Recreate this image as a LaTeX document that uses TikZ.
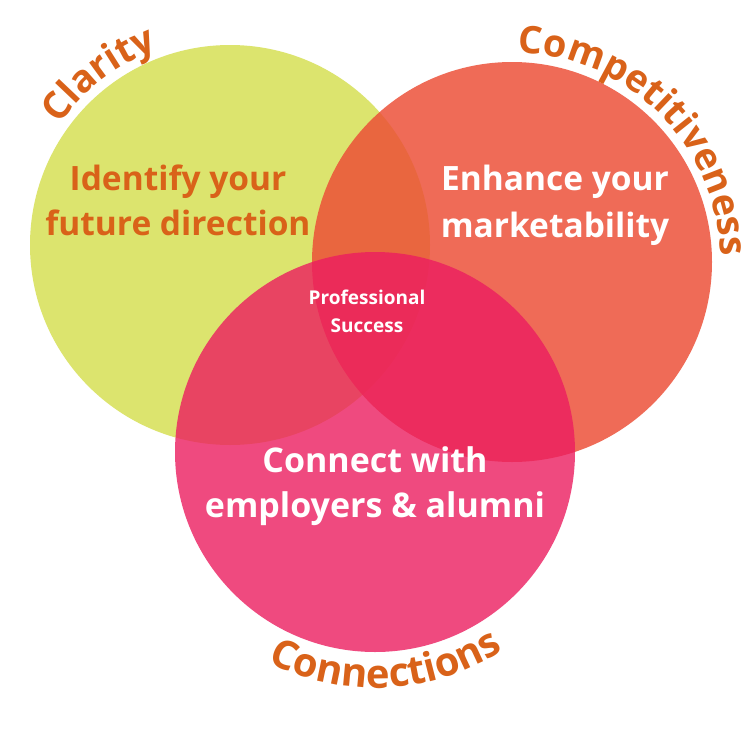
\documentclass[tikz,border=0pt]{standalone}
\usepackage{fontspec}
\setmainfont{Open Sans}
\usetikzlibrary{decorations.text}
\definecolor{cyel}{RGB}{220,228,110}
\definecolor{corg}{RGB}{236,79,55}
\definecolor{cpnk}{RGB}{236,29,96}
\definecolor{ctxt}{RGB}{217,98,25}
\newcommand{\arcfont}[1]{\fontsize{#1}{#1}\selectfont\bfseries\color{ctxt}}
\begin{document}
\begin{tikzpicture}[x=1pt,y=1pt,
  bigtxt/.style={font=\fontsize{33.5}{33.5}\selectfont\bfseries, anchor=base, inner sep=0pt},
  midtxt/.style={font=\fontsize{34}{34}\selectfont\bfseries, anchor=base, inner sep=0pt, text=white},
  smalltxt/.style={font=\fontsize{19}{19}\selectfont\bfseries, anchor=base, inner sep=0pt, text=white},
  arclabel/.style={decorate, decoration={text along path, text align=center, text={#1}}}]
\useasboundingbox (0,0) rectangle (750,-750);
\fill[white] (0,0) rectangle (750,-750);
\coordinate (cy) at (230,-245);
\coordinate (co) at (512,-262);
\coordinate (cp) at (375,-452);
\fill[cyel] (cy) circle[radius=200pt];
\fill[corg, fill opacity=0.84] (co) circle[radius=200pt];
\fill[cpnk, fill opacity=0.8] (cp) circle[radius=200pt];
% inner texts
\node[bigtxt, text=ctxt] (id1) at (178,-190) {Identify your};
\node[bigtxt, text=ctxt] (id2) at (178,-235) {future direction};
\node[bigtxt, text=white] (en1) at (555,-190) {Enhance your};
\node[bigtxt, text=white] (en2) at (555,-237) {marketability};
\node[smalltxt] (ps1) at (367,-304) {Professional};
\node[smalltxt] (ps2) at (367,-332) {Success};
\node[midtxt] (cn1) at (375,-472) {Connect with};
\node[midtxt] (cn2) at (375,-517) {employers \& alumni};
% arc labels
\path[arclabel={|\arcfont{38}|Clarity}] (cy) ++(165:209pt) arc[start angle=165, end angle=90, radius=209pt];
\path[arclabel={|\arcfont{38}|Competitiveness}] (co) ++(110:209pt) arc[start angle=110, end angle=-20, radius=209pt];
\path[arclabel={|\arcfont{40}|Connections}] (cp) ++(225:236pt) arc[start angle=225, end angle=321, radius=236pt];
\end{tikzpicture}
\end{document}
